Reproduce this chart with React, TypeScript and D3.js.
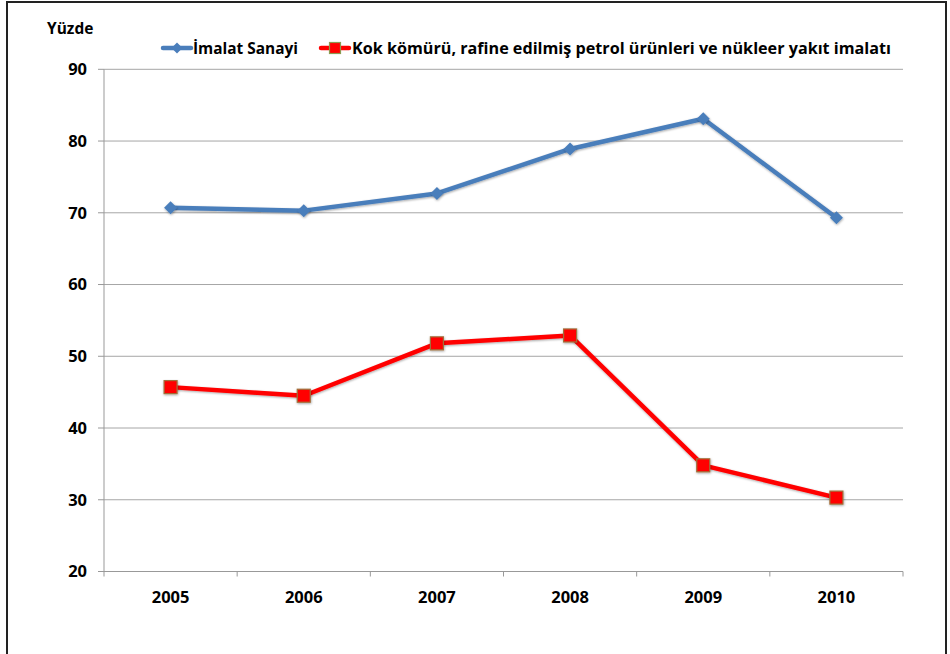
import React from "react";
import * as d3 from "d3";

const years = ["2005", "2006", "2007", "2008", "2009", "2010"];
const imalat = [70.7, 70.3, 72.7, 78.9, 83.1, 69.3];
const kok = [45.7, 44.5, 51.8, 52.9, 34.8, 30.3];
const yTicks = [20, 30, 40, 50, 60, 70, 80, 90];
const seriesNames = ["İmalat Sanayi", "Kok kömürü, rafine edilmiş petrol ürünleri ve nükleer yakıt imalatı"];

const W = 950, H = 654;
const left = 104, right = 903, top = 69.3, bottom = 571.5;
const FONT = "'Open Sans', Lato, sans-serif";
const BLUE = "#4a7ebb";
const RED = "#ff0000";

export default function App() {
  const x = d3.scaleBand<string>().domain(years).range([left, right]);
  const y = d3.scaleLinear().domain([20, 90]).range([bottom, top]);
  const cx = (d: string) => (x(d) as number) + x.bandwidth() / 2;
  const line = d3.line<number>().x((_, i) => cx(years[i])).y((v) => y(v));
  const bounds = years.map((d) => x(d) as number).concat([right]);
  const diamond = (px: number, py: number, r: number) =>
    `M${px},${py - r}L${px + r},${py}L${px},${py + r}L${px - r},${py}Z`;

  return (
    <svg width={W} height={H} style={{ position: "absolute", left: 0, top: 0, background: "#fff" }} fontFamily={FONT}>
      <defs>
        <filter id="sh" x="-50%" y="-50%" width="200%" height="200%">
          <feDropShadow dx="0.5" dy="1" stdDeviation="1" floodColor="#000" floodOpacity="0.35" />
        </filter>
      </defs>
      <rect x={7} y={2} width={939} height={H + 10} fill="#fff" stroke="#222" strokeWidth={2} />
      {yTicks.map((t) => (
        <g key={t}>
          {t !== 20 && <line x1={left} x2={right} y1={y(t)} y2={y(t)} stroke="#a6a6a6" strokeWidth={1} />}
          <line x1={98} x2={left} y1={y(t)} y2={y(t)} stroke="#999" strokeWidth={1} />
          <text x={87} y={y(t)} dy="0.36em" textAnchor="end" fontSize={16.5} fontWeight={700} fill="#000">{t}</text>
        </g>
      ))}
      <line x1={left} x2={left} y1={top} y2={bottom} stroke="#999" strokeWidth={1} />
      <line x1={left} x2={right} y1={bottom} y2={bottom} stroke="#999" strokeWidth={1} />
      {bounds.map((b, i) => (
        <line key={i} x1={b} x2={b} y1={bottom} y2={bottom + 5} stroke="#999" strokeWidth={1} />
      ))}
      {years.map((d) => (
        <text key={d} x={cx(d)} y={597} dy="0.36em" textAnchor="middle" fontSize={16.5} fontWeight={700} fill="#000">{d}</text>
      ))}
      <text x={47} y={28} dy="0.36em" fontSize={15.5} fontWeight={700} fill="#000">Yüzde</text>
      <path d={line(imalat) as string} fill="none" stroke={BLUE} strokeWidth={4.5} strokeLinejoin="round" strokeLinecap="round" filter="url(#sh)" />
      {imalat.map((v, i) => (
        <path key={i} d={diamond(cx(years[i]), y(v), 6.5)} fill={BLUE} filter="url(#sh)" />
      ))}
      <path d={line(kok) as string} fill="none" stroke={RED} strokeWidth={4.5} strokeLinejoin="round" strokeLinecap="round" filter="url(#sh)" />
      {kok.map((v, i) => (
        <rect key={i} x={cx(years[i]) - 6.5} y={y(v) - 6.5} width={13} height={13} fill={RED} stroke="#a0703a" strokeWidth={1.2} filter="url(#sh)" />
      ))}
      <g>
        <line x1={163} x2={191} y1={48} y2={48} stroke={BLUE} strokeWidth={4.5} strokeLinecap="round" />
        <path d={diamond(177, 48, 5.5)} fill={BLUE} />
        <text x={193} y={48} dy="0.36em" fontSize={16} fontWeight={700} fill="#000" textLength={105} lengthAdjust="spacingAndGlyphs">{seriesNames[0]}</text>
        <line x1={321} x2={349} y1={48} y2={48} stroke={RED} strokeWidth={4.5} strokeLinecap="round" />
        <rect x={329.5} y={42.5} width={11} height={11} fill={RED} stroke="#8c9a50" strokeWidth={1.2} />
        <text x={352} y={48} dy="0.36em" fontSize={16} fontWeight={700} fill="#000" textLength={539} lengthAdjust="spacingAndGlyphs">{seriesNames[1]}</text>
      </g>
    </svg>
  );
}
